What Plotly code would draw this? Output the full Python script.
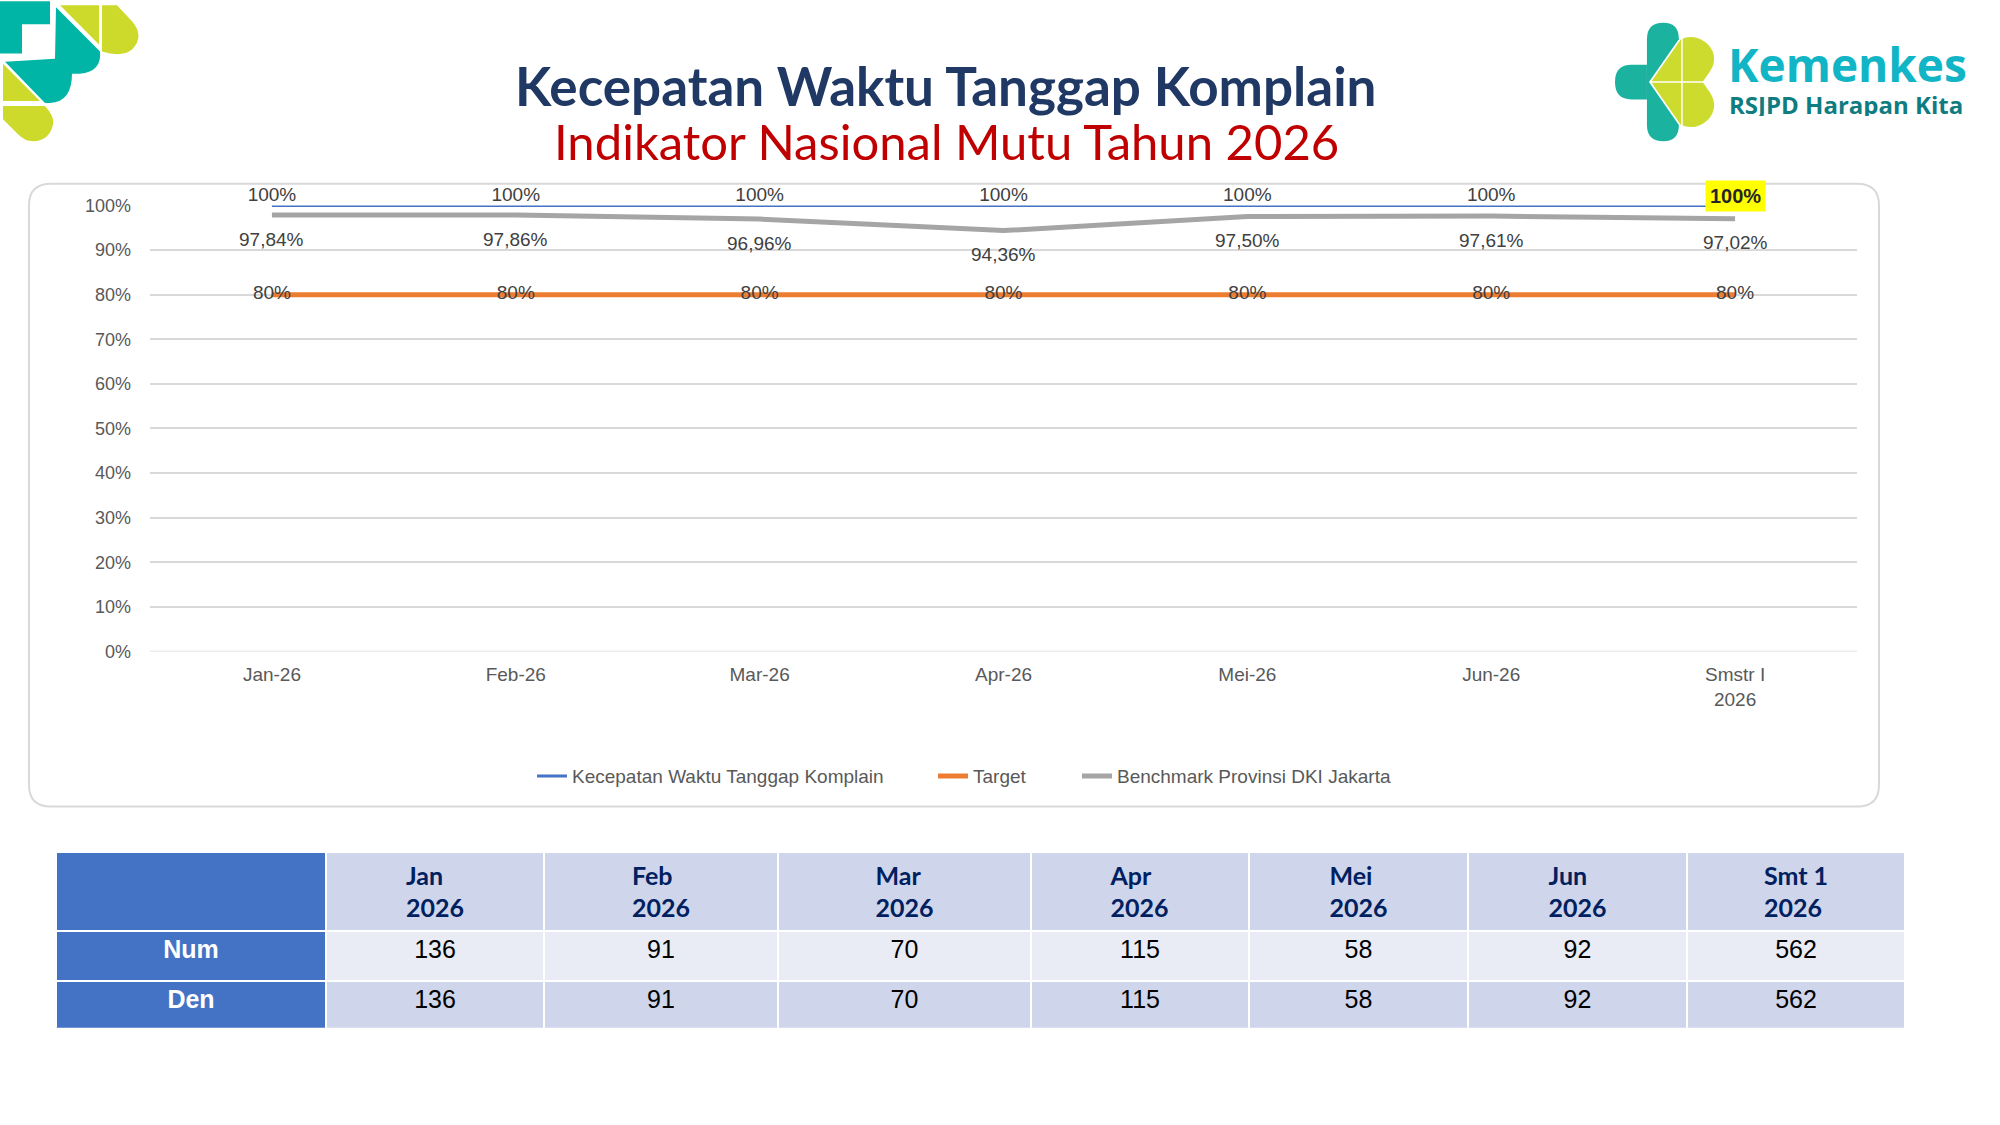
import re
import plotly.graph_objects as go

W, H = 2000, 1125

# ---------------- data ----------------
categories = ["Jan-26", "Feb-26", "Mar-26", "Apr-26", "Mei-26", "Jun-26", "Smstr I<br>2026"]
kecepatan = [100, 100, 100, 100, 100, 100, 100]
target = [80, 80, 80, 80, 80, 80, 80]
benchmark = [97.84, 97.86, 96.96, 94.36, 97.50, 97.61, 97.02]

series_names = ["Kecepatan Waktu Tanggap Komplain", "Target", "Benchmark Provinsi DKI Jakarta"]

table_header = ["", "Jan<br>2026", "Feb<br>2026", "Mar<br>2026", "Apr<br>2026",
                "Mei<br>2026", "Jun<br>2026", "Smt 1<br>2026"]
row_labels = ["Num", "Den"]
num_values = [136, 91, 70, 115, 58, 92, 562]
den_values = [136, 91, 70, 115, 58, 92, 562]

title_text = "Kecepatan Waktu Tanggap Komplain"
subtitle_text = "Indikator Nasional Mutu Tahun 2026"


def fx(x):
    return x / W


def fy(y):
    return 1 - y / H


def ppath(s, tx=lambda x: x, ty=lambda y: y):
    toks = re.findall(r"[MLQZ]|-?\d+(?:\.\d+)?", s)
    out, nums = [], []
    for t in toks:
        if t in "MLQZ":
            out.append(t)
        else:
            nums.append(float(t))
            if len(nums) == 2:
                out.append(f"{fx(tx(nums[0])):.5f},{fy(ty(nums[1])):.5f}")
                nums = []
    return " ".join(out)


def pct(v):
    return (f"{v:.2f}%" if v != int(v) else f"{int(v)}%").replace(".", ",")


LABEL_FONT = dict(family="Liberation Sans", size=19, color="#404040")

fig = go.Figure()

fig.add_trace(go.Scatter(
    x=categories, y=kecepatan, name=series_names[0], mode="lines+text",
    text=[pct(v) for v in kecepatan[:-1]] + [""], textposition="top center",
    textfont=LABEL_FONT, legend="legend",
    line=dict(color="#4472C4", width=3), cliponaxis=False))
fig.add_trace(go.Scatter(
    x=categories, y=target, name=series_names[1], mode="lines+text",
    text=[pct(v) for v in target], textposition="middle center",
    textfont=LABEL_FONT, legend="legend2",
    line=dict(color="#ED7D31", width=5), cliponaxis=False))
fig.add_trace(go.Scatter(
    x=categories, y=benchmark, name=series_names[2], mode="lines", legend="legend3",
    line=dict(color="#A5A5A5", width=5), cliponaxis=False))

annotations = []
for c, v in zip(categories, benchmark):
    annotations.append(dict(x=c, y=v, xref="x", yref="y", text=pct(v), showarrow=False,
                            yshift=-24, font=LABEL_FONT))
annotations.append(dict(x=categories[-1], y=kecepatan[-1], xref="x", yref="y",
                        text="<b>" + pct(kecepatan[-1]) + "</b>", showarrow=False, yshift=9,
                        bgcolor="#FFFF00", borderpad=4,
                        font=dict(family="Liberation Sans", size=20, color="#262626")))
annotations.append(dict(x=fx(946), y=fy(76.5), xref="paper", yref="paper", text=title_text,
                        showarrow=False, xanchor="center", yanchor="middle",
                        font=dict(family="Lato", size=53, color="#1F3864", weight="bold")))
annotations.append(dict(x=fx(946), y=fy(133.5), xref="paper", yref="paper", text=subtitle_text,
                        showarrow=False, xanchor="center", yanchor="middle",
                        font=dict(family="Lato", size=49, color="#C00000")))
annotations.append(dict(x=fx(1726), y=fy(55), xref="paper", yref="paper", text="Kemenkes",
                        showarrow=False, xanchor="left", yanchor="middle", height=44,
                        font=dict(family="Open Sans", size=46, color="#12B5C6", weight="bold")))
annotations.append(dict(x=fx(1727), y=fy(96), xref="paper", yref="paper", text="RSJPD Harapan Kita",
                        showarrow=False, xanchor="left", yanchor="middle", height=24,
                        font=dict(family="Open Sans", size=24, color="#0E7C80", weight="bold")))

shapes = []
# chart frame
x0, y0, x1, y1, r = 29, 177, 1879, 811, 22
frame = (f"M {x0+r} {y0} L {x1-r} {y0} Q {x1} {y0} {x1} {y0+r} L {x1} {y1-r} Q {x1} {y1} {x1-r} {y1} "
         f"L {x0+r} {y1} Q {x0} {y1} {x0} {y1-r} L {x0} {y0+r} Q {x0} {y0} {x0+r} {y0} Z")
shapes.append(dict(type="path", xref="paper", yref="paper", path=ppath(frame),
                   line=dict(color="#D9D9D9", width=2), fillcolor="rgba(0,0,0,0)", layer="below"))

TEAL = "#00B5A5"
LIME = "#CDDA2B"
logo_left = [
    ("M 0 0 L 50 0 L 50 23 L 22 23 L 22 52 L 0 52 Z", TEAL),
    ("M 56 6 L 100 50 Q 102 70 80 72 L 72 72 Q 72 100 50 101 L 45 101 L 5 60 L 55 57 Z", TEAL),
    ("M 60 4 L 99 4 L 99 43 Z", LIME),
    ("M 102 4 L 117 4 L 132 20 Q 145 35 132 48 Q 122 56 102 50 Z", LIME),
    ("M 3 62 L 40 99 L 3 99 Z", LIME),
    ("M 3 104 L 45 104 Q 55 115 53 122 Q 50 138 33 139 Q 25 139 18 132 L 3 117 Z", LIME),
]
logo_right = [
    ("M 1652 63 L 1637 63 Q 1621 63 1621 80 Q 1621 97 1637 97 L 1652 97 Z", "#1BB39F"),
    ("M 1652 80 L 1652 38 Q 1652 22 1668 22 Q 1683 22 1683 38 L 1654 80 Z", "#1BB39F"),
    ("M 1652 80 L 1652 122 Q 1652 138 1668 138 Q 1683 138 1683 122 L 1654 80 Z", "#1BB39F"),
    ("M 1656 80 L 1685 38 Q 1700 32 1712 44 Q 1722 56 1713 70 L 1706 80 Z", "#CCDB2E"),
    ("M 1656 80 L 1685 122 Q 1700 128 1712 116 Q 1722 104 1713 90 L 1706 80 Z", "#CCDB2E"),
]
lt_y = lambda y: y * 1.027 - 9
rt_x = lambda x: 1615 + (x - 1621) * 1.03
rt_y = lambda y: 13 + (y - 22) * 1.041
for p, col in logo_left:
    shapes.append(dict(type="path", xref="paper", yref="paper", path=ppath(p, ty=lt_y),
                       fillcolor=col, line=dict(width=0)))
for p, col in logo_right:
    shapes.append(dict(type="path", xref="paper", yref="paper", path=ppath(p, tx=rt_x, ty=rt_y),
                       fillcolor=col, line=dict(width=0)))
shapes.append(dict(type="line", xref="paper", yref="paper", x0=fx(rt_x(1686)), x1=fx(rt_x(1686)),
                   y0=fy(rt_y(37)), y1=fy(rt_y(123)), line=dict(color="white", width=1.5)))
shapes.append(dict(type="line", xref="paper", yref="paper", x0=fx(rt_x(1656)), x1=fx(rt_x(1714)),
                   y0=fy(rt_y(80)), y1=fy(rt_y(80)), line=dict(color="white", width=1.5)))

# ---------------- table ----------------
BLUE = "#4472C4"
col_widths = [270, 218, 234, 253, 218, 219, 219, 218]
cells_values = [row_labels] + [[n, d] for n, d in zip(num_values, den_values)]
cells_fill = [[BLUE, BLUE]] + [["#E9EBF5", "#CFD5EA"]] * 7
cells_font_color = [["white", "white"]] + [["black", "black"]] * 7
cells_font_weight = [700] + [400] * 7

fig.add_trace(go.Table(
    domain=dict(x=[fx(56), fx(1906)], y=[fy(1037), fy(857)]),
    columnwidth=col_widths,
    header=dict(values=["<b>" + s + "</b>" if s else s for s in table_header], height=79, align="center",
                fill=dict(color=[BLUE] + ["#CFD5EA"] * 7),
                line=dict(color="white", width=2),
                font=dict(family="Lato", size=25, color="#002060")),
    cells=dict(values=cells_values, height=50, align="center",
               fill=dict(color=cells_fill),
               line=dict(color="white", width=2),
               font=dict(family="Liberation Sans", size=25, color=cells_font_color,
                         weight=cells_font_weight)),
))

LEG_FONT = dict(family="Liberation Sans", size=19, color="#595959")
leg_common = dict(orientation="h", xanchor="left", y=fy(780), yanchor="middle",
                  font=LEG_FONT, bgcolor="rgba(0,0,0,0)")

fig.update_layout(
    width=W, height=H, margin=dict(l=0, r=0, t=0, b=0),
    paper_bgcolor="white", plot_bgcolor="white",
    showlegend=True,
    legend=dict(x=fx(532), **leg_common),
    legend2=dict(x=fx(933), **leg_common),
    legend3=dict(x=fx(1077), **leg_common),
    xaxis=dict(domain=[fx(150), fx(1857)], type="category", range=[-0.5, 6.5],
               showgrid=False, showline=False, zeroline=False, ticks="", ticklabelstandoff=10,
               tickfont=dict(family="Liberation Sans", size=19, color="#595959"),
               fixedrange=True),
    yaxis=dict(domain=[fy(653), fy(199)], range=[0, 100], dtick=10, ticksuffix="%",
               showgrid=True, gridcolor="#D9D9D9", gridwidth=1.5, zeroline=False,
               showline=False, ticks="", ticklabelstandoff=18,
               tickfont=dict(family="Liberation Sans", size=18, color="#595959"),
               fixedrange=True),
    annotations=annotations,
    shapes=shapes,
)
fig.add_hline(y=0, line=dict(color="#D9D9D9", width=1.5), layer="below")

fig.write_html("out.html", config={"displayModeBar": False},
               post_script="document.body.style.margin='0';document.body.style.overflow='hidden';")
